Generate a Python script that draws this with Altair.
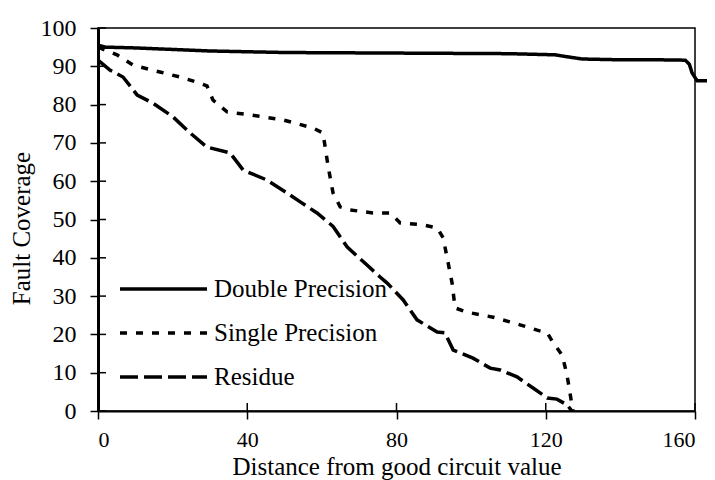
import altair as alt
import pandas as pd

# Double precision
dp_x = [0, 2, 10, 30, 50, 70, 90, 110, 122.5, 125, 129.8, 140, 150, 157.4, 158.5, 159.2, 160.6, 163.3]
dp_y = [95.5, 95, 94.8, 94, 93.6, 93.5, 93.4, 93.3, 93, 92.6, 91.9, 91.7, 91.7, 91.6, 90.5, 88.3, 86.2, 86.2]

# Single precision
sp_x = [0, 5.1, 9.4, 16.6, 22, 27.3, 29.2, 30.8, 34.6, 40.8, 49.6, 57.6, 60.3, 61.7, 63, 64.9,
        67.6, 73.7, 78.3, 81, 87.1, 90.9, 92.5, 93.8, 94.9, 95.7, 98.9, 105.9, 113.1, 117.7,
        120.4, 122, 124.4, 125.7, 126.5, 127.1, 127.3]
sp_y = [95, 93, 90.3, 88.5, 87.2, 85.6, 84.9, 81.2, 78.1, 77.3, 76, 73.9, 72.6, 63.7, 56.9, 53.3,
        52.5, 51.7, 51.7, 49.1, 48.6, 47.8, 45.2, 38.9, 33.4, 26.9, 25.8, 24.5, 22.5, 21.1,
        20.4, 17.8, 14.6, 9.4, 4.7, 1, 0]

# Residue
r_x = [0, 3.2, 6.7, 10.5, 14.7, 20.1, 24.7, 29.2, 35.4, 38.9, 45.3, 50.7, 54.2, 58.7, 63, 66.8,
       72.1, 75.6, 77.5, 81.8, 85.5, 90.9, 93, 95.2, 100.5, 105.1, 107.8, 112.3, 116.6, 120.4,
       123, 125.7, 127]
r_y = [91.6, 89, 87.2, 82.5, 80.4, 76.8, 72.6, 68.9, 67.4, 62.9, 60.3, 56.9, 54.6, 51.7, 48.2, 42.8,
       38.1, 35, 33.4, 29, 23.8, 20.6, 20.4, 15.9, 13.8, 11.2, 10.7, 8.9, 6, 3.4,
       3.1, 1.6, 0]

series_names = ["Double Precision", "Single Precision", "Residue"]
x_ticks = [0, 40, 80, 120, 160]
y_ticks = [0, 10, 20, 30, 40, 50, 60, 70, 80, 90, 100]

rows = []
for name, xs, ys in zip(series_names, [dp_x, sp_x, r_x], [dp_y, sp_y, r_y]):
    for i, (a, b) in enumerate(zip(xs, ys)):
        rows.append({"series": name, "x": a, "y": b, "i": i})
df = pd.DataFrame(rows)

W, H = 597, 383
FONT = "Liberation Serif"
XT = "Distance from good circuit value"
YT = "Fault Coverage"

xscale = alt.Scale(domain=[0, 160], nice=False, zero=False)
yscale = alt.Scale(domain=[0, 100], nice=False)

xaxis = alt.Axis(values=x_ticks, grid=False, tickSize=8, tickWidth=1.5, tickColor="black",
                 domainColor="black", domainWidth=2, labelFont=FONT, labelFontSize=22,
                 labelColor="black", labelPadding=10, labelOverlap=False,
                 titleFont=FONT, titleFontSize=25, titleFontWeight="normal",
                 titleColor="black", titleBaseline="alphabetic", titleY=63)
yaxis = alt.Axis(values=y_ticks, tickCount=11, grid=False, tickSize=8, tickWidth=1.5,
                 tickColor="black", domainColor="black", domainWidth=3, labelFont=FONT,
                 labelFontSize=24, labelColor="black", labelPadding=14, labelOverlap=False,
                 titleFont=FONT, titleFontSize=25, titleFontWeight="normal",
                 titleColor="black", titleBaseline="alphabetic", titleAngle=270,
                 titleAlign="center", titleX=-69, titleY=200)

lines = alt.Chart(df).mark_line(color="black", strokeWidth=3.5).encode(
    x=alt.X("x:Q", scale=xscale, axis=xaxis, title=XT),
    y=alt.Y("y:Q", scale=yscale, axis=yaxis, title=YT),
    order="i:Q",
    strokeDash=alt.StrokeDash(
        "series:N",
        scale=alt.Scale(domain=series_names, range=[[1, 0], [7, 9], [18, 6]]),
        sort=series_names,
        legend=alt.Legend(orient="none", legendX=20, legendY=240, title=None,
                          symbolType="stroke", symbolSize=7569, symbolStrokeWidth=3.5,
                          symbolStrokeColor="black", clipHeight=42, rowPadding=2,
                          labelFont=FONT, labelFontSize=25, labelOffset=5, labelLimit=400,
                          labelColor="black", padding=0),
    ),
)

ydf = pd.DataFrame({"y": y_ticks})
xdf = pd.DataFrame({"x": x_ticks})
yin = alt.Chart(ydf).mark_rule(color="black", strokeWidth=1.5).encode(
    y=alt.Y("y:Q", scale=yscale, axis=yaxis, title=YT), x=alt.value(0), x2=alt.value(8))
xin = alt.Chart(xdf).mark_rule(color="black", strokeWidth=1.5).encode(
    x=alt.X("x:Q", scale=xscale, axis=xaxis, title=XT), y=alt.value(H - 8), y2=alt.value(H))

chart = alt.layer(lines, yin, xin).properties(
    width=W, height=H,
    autosize=alt.AutoSizeParams(type="none"),
    padding={"left": 90, "top": 20, "right": 12, "bottom": 80},
    background="white",
).configure_view(stroke="black", strokeWidth=1.5)

chart.save("out.html", embed_options={"renderer": "svg", "actions": False})
